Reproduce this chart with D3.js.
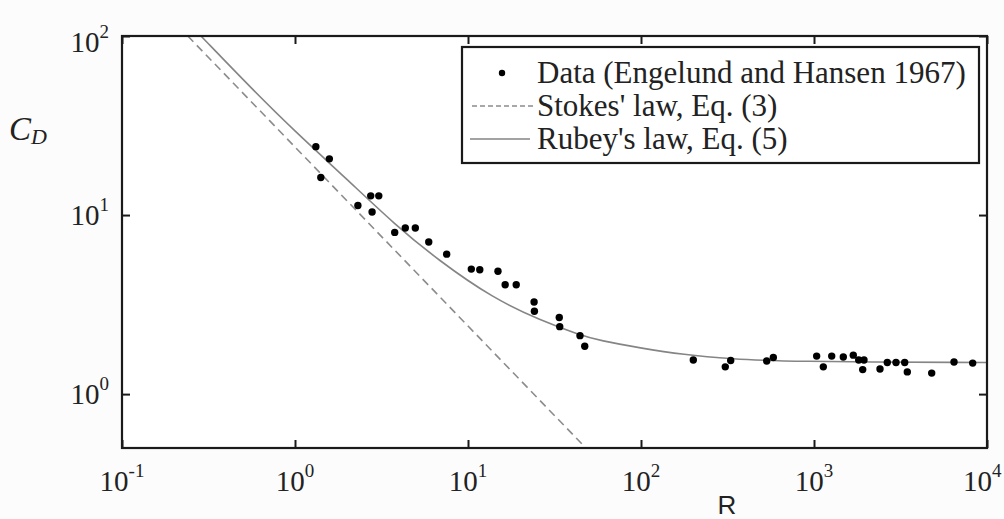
<!DOCTYPE html>
<html>
<head>
<meta charset="utf-8">
<script src="https://cdn.jsdelivr.net/npm/d3@7"></script>
<style>
body { margin: 0; background: #fcfcfc; }
svg { display: block; }
</style>
</head>
<body>
<svg id="vis" width="1004" height="519"></svg>
<script>
// Data (Engelund and Hansen 1967)
const dataR = [1.32, 1.58, 1.41, 2.74, 3.05, 2.31, 2.79, 3.77, 4.34, 4.96, 5.93, 7.53,
    10.45, 11.7, 14.9, 16.4, 19.0, 24.1, 24.2, 33.7, 33.9, 44.4, 47.3,
    200.6, 307, 330, 533, 582, 1036, 1132, 1266, 1477, 1687, 1813, 1945, 1912,
    2407, 2653, 2979, 3344, 3462, 4790, 6447, 8265];
const dataCD = [24.1, 20.6, 16.2, 12.8, 12.8, 11.3, 10.4, 8.0, 8.46, 8.46, 7.07, 6.05,
    4.99, 4.95, 4.85, 4.08, 4.08, 3.27, 2.90, 2.68, 2.38, 2.12, 1.85,
    1.55, 1.42, 1.54, 1.53, 1.60, 1.63, 1.42, 1.63, 1.61, 1.65, 1.55, 1.55, 1.37,
    1.38, 1.50, 1.50, 1.50, 1.33, 1.31, 1.51, 1.49];

// Stokes' law line, end points
const stokesR = [0.24, 48];
const stokesCD = [100, 0.5];

// Rubey's law curve, points read along it
const rubeyR = [0.286, 0.572, 0.978, 1.99, 3.77, 6.71, 14.0, 26.1, 44.3, 57.9, 98.7, 175, 340, 662, 10000];
const rubeyCD = [100, 49.9, 29.9, 15.9, 8.86, 5.61, 3.42, 2.59, 2.14, 1.99, 1.81, 1.66, 1.57, 1.52, 1.50];

const xTicks = [0.1, 1, 10, 100, 1000, 10000];
const xExp = ["-1", "0", "1", "2", "3", "4"];
const yTicks = [1, 10, 100];
const yExp = ["0", "1", "2"];

const legendLabels = ["Data (Engelund and Hansen 1967)", "Stokes' law, Eq. (3)", "Rubey's law, Eq. (5)"];

const svg = d3.select("#vis");
const W = 1004;
const X0 = 122, X1 = 987, Y0 = 36, Y1 = 448;
const xscale = d3.scaleLog().domain([0.1, 10000]).range([X0, X1]);
const yscale = d3.scaleLog().domain([0.5, 100]).range([Y1, Y0]);

const SERIF = "'Liberation Serif', 'Times New Roman', serif";
const INK = "#1a1a1a";

function main() {
    svg.append("rect").attr("x", X0).attr("y", Y0)
        .attr("width", X1 - X0).attr("height", Y1 - Y0).attr("fill", "#fff");

    svg.append("clipPath").attr("id", "plotclip")
        .append("rect").attr("x", X0).attr("y", Y0)
        .attr("width", X1 - X0).attr("height", Y1 - Y0);

    drawCurves();
    drawPoints();
    drawAxes();
    drawLegend();
}

function drawCurves() {
    const line = d3.line().x(d => xscale(d[0])).y(d => yscale(d[1]));
    const g = svg.append("g").attr("clip-path", "url(#plotclip)");

    g.append("path")
        .datum(d3.zip(stokesR, stokesCD))
        .attr("fill", "none")
        .attr("stroke", "#8c8c8c")
        .attr("stroke-width", 1.6)
        .attr("stroke-dasharray", "8,5")
        .attr("d", line);

    g.append("path")
        .datum(d3.zip(rubeyR, rubeyCD))
        .attr("fill", "none")
        .attr("stroke", "#858585")
        .attr("stroke-width", 1.6)
        .attr("d", line.curve(d3.curveBasis));
}

function drawPoints() {
    svg.selectAll(".points").data(d3.zip(dataR, dataCD)).join("circle")
        .attr("class", "points")
        .attr("cx", d => xscale(d[0]))
        .attr("cy", d => yscale(d[1]))
        .attr("r", 3.7)
        .attr("fill", "#000");
}

function drawAxes() {
    const TICK = 8;
    // inward ticks on all four sides
    svg.append("g").attr("transform", `translate(0,${Y1})`)
        .call(d3.axisBottom(xscale).tickValues(xTicks).tickSize(-TICK).tickFormat(""));
    svg.append("g").attr("transform", `translate(0,${Y0})`)
        .call(d3.axisTop(xscale).tickValues(xTicks).tickSize(-TICK).tickFormat(""));
    svg.append("g").attr("transform", `translate(${X0},0)`)
        .call(d3.axisLeft(yscale).tickValues(yTicks).tickSize(-TICK).tickFormat(""));
    svg.append("g").attr("transform", `translate(${X1},0)`)
        .call(d3.axisRight(yscale).tickValues(yTicks).tickSize(-TICK).tickFormat(""));
    svg.selectAll(".domain").remove();
    svg.selectAll(".tick line").attr("stroke", INK).attr("stroke-width", 2);

    svg.append("rect").attr("x", X0).attr("y", Y0)
        .attr("width", X1 - X0).attr("height", Y1 - Y0)
        .attr("fill", "none").attr("stroke", INK).attr("stroke-width", 2.2);

    // x tick labels, whole "10^n" centred on the tick (last one kept inside the page)
    xTicks.forEach((v, i) => {
        const t = svg.append("text")
            .attr("x", xscale(v)).attr("y", 491)
            .attr("text-anchor", "middle")
            .style("font-family", SERIF).style("font-size", "29px").attr("fill", "#222");
        t.append("tspan").text("10");
        t.append("tspan").attr("dy", -14).style("font-size", "19px").text(xExp[i]);
        const bb = t.node().getBBox();
        if (bb.x + bb.width > W - 2) {
            t.attr("x", xscale(v) - (bb.x + bb.width - (W - 2)));
        }
    });

    // y tick labels, right aligned
    yTicks.forEach((v, i) => {
        const cy = Math.max(yscale(v), 42);
        const t = svg.append("text")
            .attr("x", 109).attr("y", cy + 10)
            .attr("text-anchor", "end")
            .style("font-family", SERIF).style("font-size", "29px").attr("fill", "#222");
        t.append("tspan").text("10");
        t.append("tspan").attr("dy", -14).style("font-size", "19px").text(yExp[i]);
    });

    svg.append("text").attr("x", 727).attr("y", 514)
        .attr("text-anchor", "middle")
        .style("font-family", "'Liberation Sans', Arial, sans-serif")
        .style("font-size", "26px").attr("fill", "#222").text("R");

    const cd = svg.append("text").attr("x", 9).attr("y", 140)
        .style("font-family", SERIF).style("font-style", "italic")
        .style("font-size", "33px").attr("fill", "#222");
    cd.append("tspan").text("C");
    cd.append("tspan").attr("dy", 4).style("font-size", "22px").text("D");
}

function drawLegend() {
    const LX = 462, LY = 47, LW = 517, LH = 116;
    const g = svg.append("g");
    g.append("rect").attr("x", LX).attr("y", LY).attr("width", LW).attr("height", LH)
        .attr("fill", "#fff").attr("stroke", INK).attr("stroke-width", 2.2);

    const rows = [73, 106, 139];
    g.append("circle").attr("cx", 502).attr("cy", rows[0]).attr("r", 3.2).attr("fill", "#000");
    g.append("line").attr("x1", 472).attr("x2", 535).attr("y1", rows[1]).attr("y2", rows[1])
        .attr("stroke", "#8c8c8c").attr("stroke-width", 1.6).attr("stroke-dasharray", "5,3");
    g.append("line").attr("x1", 470).attr("x2", 530).attr("y1", rows[2]).attr("y2", rows[2])
        .attr("stroke", "#858585").attr("stroke-width", 1.6);

    g.selectAll(".legtext").data(legendLabels).join("text")
        .attr("class", "legtext")
        .attr("x", 537)
        .attr("y", (d, i) => rows[i] + 10)
        .style("font-family", SERIF).style("font-size", "31px").attr("fill", "#222")
        .text(d => d);
}

main();
</script>
</body>
</html>
